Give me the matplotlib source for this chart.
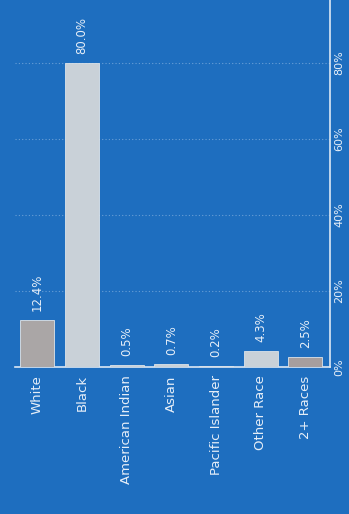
import matplotlib.pyplot as plt
import numpy as np

categories = ["White", "Black", "American Indian", "Asian",
              "Pacific Islander", "Other Race", "2+ Races"]
values = [12.4, 80.0, 0.5, 0.7, 0.2, 4.3, 2.5]
value_labels = ["12.4%", "80.0%", "0.5%", "0.7%", "0.2%", "4.3%", "2.5%"]
ticks = [0, 20, 40, 60, 80]
tick_labels = ["0%", "20%", "40%", "60%", "80%"]

bg = "#1e6ebf"
bar_colors = ["#aaa6a6", "#c9d1d8", "#c9d1d8", "#c9d1d8",
              "#c9d1d8", "#c9d1d8", "#a69e9e"]
txt = "#e6eef8"

fig = plt.figure(figsize=(3.49, 5.14), dpi=100, facecolor=bg)
ax = fig.add_axes([15 / 349, (514 - 367) / 514, 315 / 349, 367 / 514])
ax.set_facecolor(bg)

x = np.arange(len(categories))
ax.bar(x, values, width=0.76, color=bar_colors,
       edgecolor="#dde4ea", linewidth=0.6, zorder=3)

for xi, v, lab in zip(x, values, value_labels):
    ax.text(xi, v + 2.4, lab, rotation=90, ha="center", va="bottom",
            color=txt, fontsize=8.5, zorder=4)

ax.set_xlim(-0.5, 6.55)
ax.set_ylim(0, 96.5)

ax.set_xticks(x)
ax.set_xticklabels(categories, rotation=90, color=txt, fontsize=9.5)
ax.tick_params(axis="x", length=0, pad=6)

ax.yaxis.tick_right()
ax.set_yticks(ticks)
ax.set_yticklabels(tick_labels, rotation=90, va="center", color=txt, fontsize=8)
ax.tick_params(axis="y", length=0, pad=3)

ax.grid(axis="y", color="#9cc0e6", linestyle=(0, (1, 2)), linewidth=0.8, alpha=0.6, zorder=0)

for s in ["top", "left"]:
    ax.spines[s].set_visible(False)
for s in ["bottom", "right"]:
    ax.spines[s].set_color("#dce8f5")
    ax.spines[s].set_linewidth(1.2)

fig.savefig("out.png", dpi=100, facecolor=bg)
